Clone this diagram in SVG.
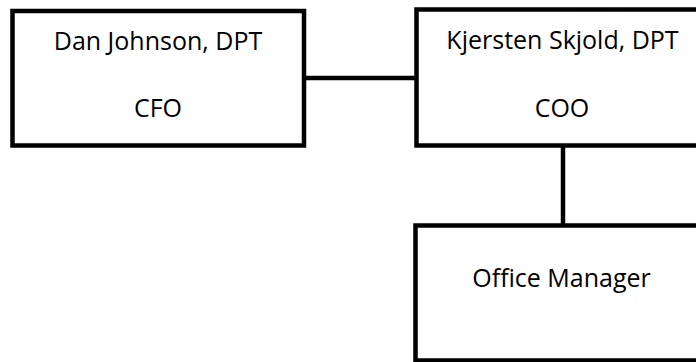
<svg xmlns="http://www.w3.org/2000/svg" width="696" height="362" viewBox="0 0 696 362">
<style>
.box{fill:#fff;stroke:#000;stroke-width:4.5}
.lbl{font-family:"Open Sans","Liberation Sans",sans-serif;font-size:25px;fill:#000;text-anchor:middle}
.con{stroke:#000;stroke-width:4.5;fill:none}
</style>
<rect width="696" height="362" fill="#fff"/>
<g id="connectors">
<line class="con" x1="304" y1="78" x2="416" y2="78"/>
<line class="con" x1="563" y1="146" x2="563" y2="225"/>
</g>
<g id="cfo">
<rect class="box" x="12.5" y="11" width="291.5" height="134.5"/>
<text class="lbl" x="158" y="50">Dan Johnson, DPT</text>
<text class="lbl" x="158" y="117">CFO</text>
</g>
<g id="coo">
<rect class="box" x="416.5" y="9.5" width="300" height="136"/>
<text class="lbl" x="562.5" y="49">Kjersten Skjold, DPT</text>
<text class="lbl" x="562" y="117">COO</text>
</g>
<g id="office-manager">
<rect class="box" x="415.5" y="225.5" width="300" height="135"/>
<text class="lbl" x="561.5" y="287">Office Manager</text>
</g>
</svg>
